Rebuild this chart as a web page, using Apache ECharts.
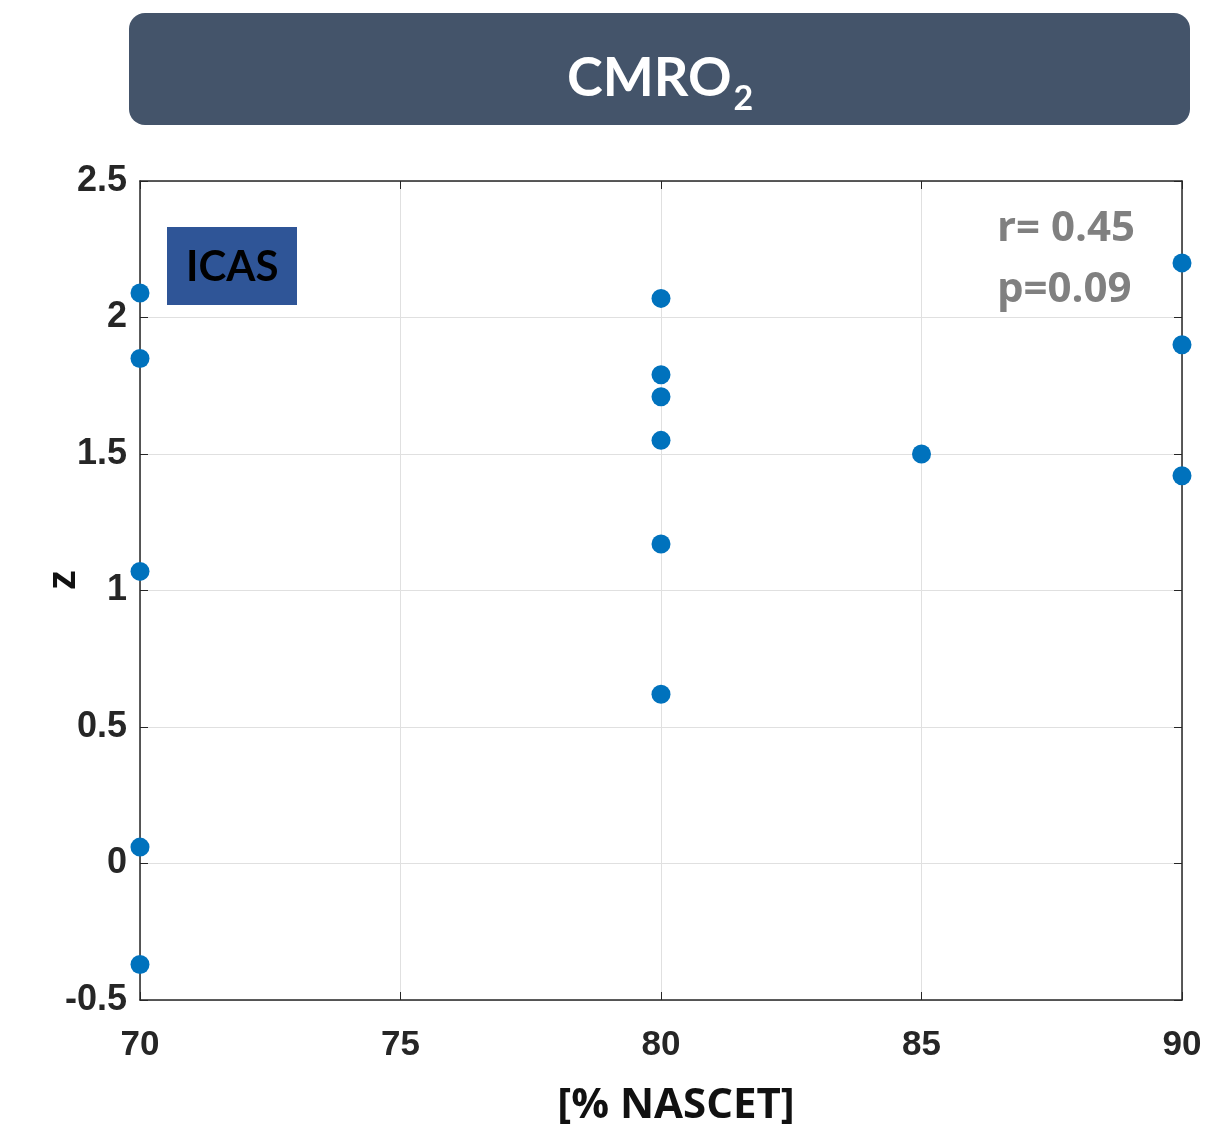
<!DOCTYPE html>
<html>
<head>
<meta charset="utf-8">
<script src="https://cdn.jsdelivr.net/npm/echarts@6/dist/echarts.min.js"></script>
<style>
  html, body { margin: 0; padding: 0; background: #fff; }
  #chart { width: 1231px; height: 1136px; }
</style>
</head>
<body>
<div id="chart"></div>
<script>
// Stenosis degree (% NASCET) and CMRO2 z-scores, one entry per patient
const nascet = [70, 70, 70, 70, 70, 80, 80, 80, 80, 80, 80, 85, 90, 90, 90];
const zScores = [2.09, 1.85, 1.07, 0.06, -0.37, 2.07, 1.79, 1.71, 1.55, 1.17, 0.62, 1.50, 2.20, 1.90, 1.42];
const xTicks = [70, 75, 80, 85, 90];
const yTicks = [-0.5, 0, 0.5, 1, 1.5, 2, 2.5];
const statsLines = ['r= 0.45', 'p=0.09'];

const points = nascet.map((x, i) => [x, zScores[i]]);

const axisColor = '#262626';
const gridColor = '#e0e0e0';
const tickFont = { fontFamily: 'Liberation Sans, Arial, sans-serif', fontWeight: 'bold', color: '#262626' };
const edgeAxis = {
  axisLine: { show: true, onZero: false, lineStyle: { color: axisColor, width: 1.5 } },
  axisTick: { show: true, inside: true, length: 8, lineStyle: { color: axisColor } }
};

const chart = echarts.init(document.getElementById('chart'), null, { renderer: 'canvas' });

chart.setOption({
  animation: false,
  backgroundColor: '#ffffff',
  grid: { left: 140, right: 49, top: 181, bottom: 136, show: false },
  xAxis: [
    Object.assign({
      type: 'value', min: xTicks[0], max: xTicks[xTicks.length - 1], interval: 5,
      name: '[% NASCET]', nameLocation: 'middle', nameGap: 85,
      nameTextStyle: { fontFamily: 'Open Sans, sans-serif', fontWeight: 'bold', fontSize: 42, color: '#111', padding: [0, 0, 0, 30] },
      axisLabel: Object.assign({ margin: 28, fontSize: 35 }, tickFont),
      splitLine: { show: true, lineStyle: { color: gridColor, width: 1 } }
    }, edgeAxis),
    Object.assign({
      type: 'value', position: 'top', min: xTicks[0], max: xTicks[xTicks.length - 1], interval: 5,
      axisLabel: { show: false }, splitLine: { show: false }
    }, edgeAxis)
  ],
  yAxis: [
    Object.assign({
      type: 'value', min: yTicks[0], max: yTicks[yTicks.length - 1], interval: 0.5,
      axisLabel: Object.assign({ margin: 13, fontSize: 36 }, tickFont),
      splitLine: { show: true, lineStyle: { color: gridColor, width: 1 } }
    }, edgeAxis),
    Object.assign({
      type: 'value', position: 'right', min: yTicks[0], max: yTicks[yTicks.length - 1], interval: 0.5,
      axisLabel: { show: false }, splitLine: { show: false }
    }, edgeAxis)
  ],
  series: [
    {
      type: 'scatter',
      data: points,
      symbol: 'circle',
      symbolSize: 19,
      itemStyle: { color: '#0072BD', opacity: 1 },
      clip: false,
      z: 5
    }
  ],
  graphic: [
    {
      type: 'rect', left: 129, top: 13,
      shape: { width: 1061, height: 112, r: 16 },
      style: { fill: '#44546A' }
    },
    {
      type: 'text', left: 567, top: 42,
      style: {
        text: '{m|CMRO}{s|2}',
        rich: {
          m: { fontFamily: 'Lato, sans-serif', fontWeight: 'bold', fontSize: 54, fill: '#ffffff', lineHeight: 64 },
          s: { fontFamily: 'Lato, sans-serif', fontWeight: 'bold', fontSize: 34, fill: '#ffffff', padding: [40, 0, 0, 2], lineHeight: 64 }
        }
      }
    },
    {
      // y-axis title, rotated to read bottom-to-top
      type: 'text', x: 64, y: 580, rotation: Math.PI / 2,
      style: {
        text: 'z', textAlign: 'center', textVerticalAlign: 'middle',
        fontFamily: 'Liberation Sans, Arial, sans-serif', fontWeight: 'bold', fontSize: 40, fill: '#111'
      }
    },
    {
      type: 'rect', left: 167, top: 227,
      shape: { width: 130, height: 78 },
      style: { fill: '#2F5597' }, z: 10
    },
    {
      type: 'text', left: 186, top: 246,
      style: { text: 'ICAS', fontFamily: 'Lato, sans-serif', fontWeight: 'bold', fontSize: 42, fill: '#000000' },
      z: 11
    },
    {
      type: 'text', right: 96, top: 199,
      style: {
        text: statsLines.join('\n'), textAlign: 'left',
        fontFamily: 'Open Sans, sans-serif', fontWeight: 'bold', fontSize: 42, lineHeight: 61, fill: '#808080'
      },
      z: 10
    }
  ]
});
</script>
</body>
</html>
